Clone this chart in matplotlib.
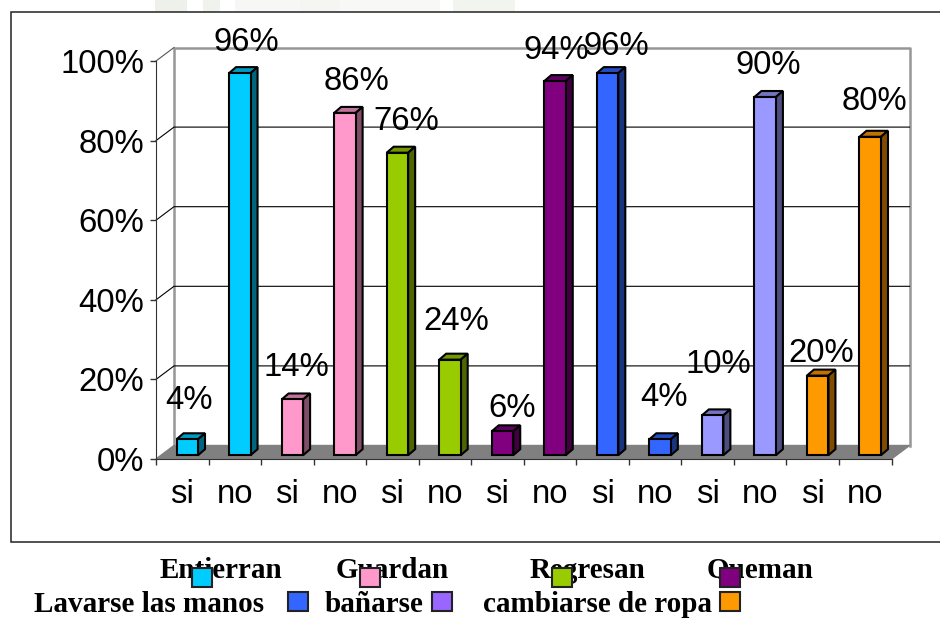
import matplotlib
matplotlib.use("Agg")
import matplotlib.pyplot as plt
from matplotlib.patches import Polygon, Rectangle
from matplotlib.colors import to_rgb

categories = ["si", "no"] * 7
values = [4, 96, 14, 86, 76, 24, 6, 94, 96, 4, 10, 90, 20, 80]
colors = ["#00CCFF", "#00CCFF", "#FF99CC", "#FF99CC", "#99CC00", "#99CC00", "#800080",
          "#800080", "#3366FF", "#3366FF", "#9999FF", "#9999FF", "#FF9900", "#FF9900"]
y_ticks = [0, 20, 40, 60, 80, 100]
# label nudges in pixels, labels are not placed evenly over the bars in the original
label_dx = [2, 7, 4, 12, 9, 6, 10, 1, 9, 4, 6, 3, 3, 4]
label_dy = [42, 34, 35, 35, 34.5, 42, 26, 34, 30, 45, 54, 35, 26, 39]

legend_row1 = ["Entierran", "Guardan", "Regresan", "Queman"]
legend_row1_x = [221, 392, 588, 760]
legend_row1_sw = [202, 370, 562, 730]
legend_row1_col = ["#00CCFF", "#FF99CC", "#99CC00", "#800080"]
legend_row2 = ["Lavarse las manos", "bañarse", "cambiarse de ropa"]
legend_row2_x = [149.5, 374, 597.5]
legend_row2_sw = [298, 442, 730]
legend_row2_col = ["#3366FF", "#9966FF", "#FF9900"]

plt.rcParams["font.family"] = "Liberation Sans"
fs = 23.7
fig = plt.figure(figsize=(9.4, 6.18), dpi=100)

# overlay in pixels for the frame and the legend
bg = fig.add_axes([0, 0, 1, 1], zorder=0)
bg.set_xlim(0, 940)
bg.set_ylim(618, 0)
bg.axis("off")
# faint remains of a picture above the frame
for a, b, c in [(155, 187, "#EEF1EA"), (203, 220, "#F0F2EE"), (235, 300, "#F7F8F5"),
                (300, 340, "#F5F6F1"), (340, 440, "#F8F9F6"), (453, 515, "#F2F4EE")]:
    bg.add_patch(Rectangle((a, 0), b - a, 11.5, fc=c, ec="none"))
bg.add_patch(Rectangle((11, 12), 940, 530, fc="white", ec="#222222", lw=1.1))

x0, x1, y0, y1 = 156, 891.5, 459, 61
ax = fig.add_axes([x0 / 940, 1 - y0 / 618, (x1 - x0) / 940, (y0 - y1) / 618], zorder=1)
ax.patch.set_alpha(0)
ax.set_xlim(0, 14)
ax.set_ylim(0, 100)
px = 14 / (x1 - x0)
py = 100 / (y0 - y1)

# back wall, floor
dx, dy = 18 * px, 13.5 * py
wall = "#969696"
ax.plot([dx, dx, 14 + dx, 14 + dx], [dy, 100 + dy, 100 + dy, dy], color=wall, lw=1.8,
        clip_on=False, zorder=1)
for t in y_ticks[1:-1]:
    ax.plot([0, dx, 14 + dx], [t, t + dy, t + dy], color="black", lw=0.8, clip_on=False, zorder=1)
ax.plot([0, dx], [100, 100 + dy], color="#555555", lw=0.8, clip_on=False, zorder=1)
ax.add_patch(Polygon([(0, 0), (dx, dy), (14 + dx, dy), (14, 0)], fc="#808080", ec="#808080",
                     clip_on=False, zorder=2))

# bars with fake 3d sides
base = 3.8 * py
width = 21.5 * px
bdx, bdy = 7 * px, 6 * py
pos = [i + 0.5 + 5 * px for i in range(14)]
for p, v, c in zip(pos, values, colors):
    r, g, b = to_rgb(c)
    left, right = p - width / 2, p + width / 2
    top = base + v
    ax.add_patch(Polygon([(left, top), (left + bdx, top + bdy), (right + bdx, top + bdy), (right, top)],
                         fc=(r * .75, g * .75, b * .75), ec="black", lw=1.5, clip_on=False, zorder=3))
    ax.add_patch(Polygon([(right, base), (right + bdx, base + bdy), (right + bdx, top + bdy), (right, top)],
                         fc=(r * .5, g * .5, b * .5), ec="black", lw=1.5, clip_on=False, zorder=3))
ax.bar(pos, values, width=width, bottom=base, color=colors, edgecolor="black", lw=1.5,
       clip_on=False, zorder=4)

for p, v, n, m in zip(pos, values, label_dx, label_dy):
    ax.text(p + n * px, base + v + (m - 3.5) * py, "%d%%" % v, fontsize=fs, ha="center", va="center",
            clip_on=False, zorder=5)

for s in ["top", "right"]:
    ax.spines[s].set_visible(False)
for s in ["left", "bottom"]:
    ax.spines[s].set_color("#333333")
    ax.spines[s].set_zorder(6)
ax.set_yticks(y_ticks)
ax.set_yticklabels(["%d%%" % t for t in y_ticks], fontsize=fs)
ax.set_xticks(range(15))
ax.set_xticklabels([])
ax.set_xticks([i + 0.5 for i in range(14)], categories, minor=True, fontsize=fs)
ax.tick_params(axis="both", which="major", length=4.5, width=1, color="#333333")
ax.tick_params(axis="x", which="minor", length=0, pad=14.5)
ax.tick_params(axis="y", pad=4)

# legend, swatches sit on top of the text as in the source
ov = fig.add_axes([0, 0, 1, 1], zorder=2)
ov.set_xlim(0, 940)
ov.set_ylim(618, 0)
ov.axis("off")
for t, tx, sw, c in zip(legend_row1, legend_row1_x, legend_row1_sw, legend_row1_col):
    ov.text(tx, 570.5, t, family="Liberation Serif", weight="bold", fontsize=21, ha="center", va="center")
    ov.add_patch(Rectangle((sw - 10, 568), 20, 19, fc=c, ec="#222222", lw=1.5, zorder=4))
for t, tx, sw, c in zip(legend_row2, legend_row2_x, legend_row2_sw, legend_row2_col):
    ov.text(tx, 605, t, family="Liberation Serif", weight="bold", fontsize=21, ha="center", va="center")
    ov.add_patch(Rectangle((sw - 10, 591.5), 20, 19, fc=c, ec="#222222", lw=1.5, zorder=4))

plt.savefig("out.png", dpi=100)
